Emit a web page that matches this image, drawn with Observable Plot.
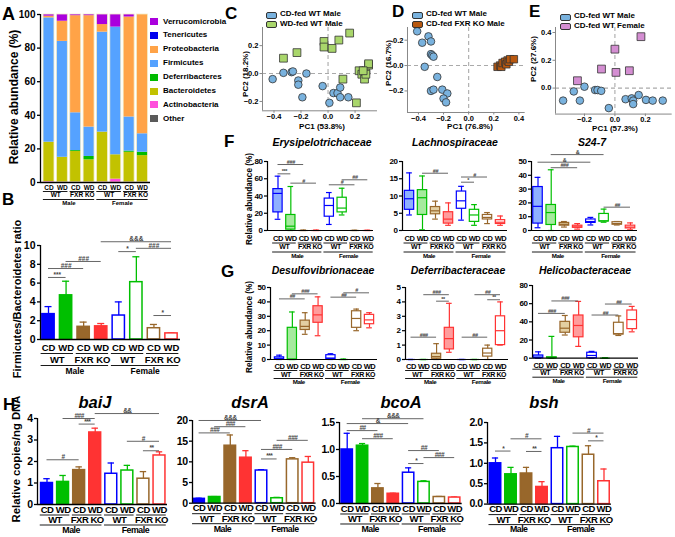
<!DOCTYPE html>
<html><head><meta charset="utf-8">
<script src="https://cdn.jsdelivr.net/npm/d3@7"></script>
<script src="https://cdn.jsdelivr.net/npm/@observablehq/plot@0.6"></script>
<style>
body{margin:0;background:#fff;}
#fig{position:relative;width:675px;height:537px;overflow:hidden;font-family:"Liberation Sans",Arial,sans-serif;color:#000;}
#fig div{position:absolute;white-space:nowrap;line-height:1;font-weight:bold;}
</style></head><body><div id="fig"></div><script>
// ---------------- shared group labels ----------------
const groupDiet = ["CD","WD","CD","WD","CD","WD","CD","WD"];
const genotypeLabels = ["WT","FXR KO","WT","FXR KO"];
const sexLabels = ["Male","Female"];
const groupColors = ["#0000ff","#00bf00","#98672b","#ff3333"];
const boxFills = ["#8fb0ff","#a6ea9e","#e3cfa2","#ff9c9c"];

// ---------------- Panel A ----------------
const phyla = ["Other","Actinobacteria","Bacteroidetes","Deferribacteres","Firmicutes","Proteobacteria","Tenericutes","Verrucomicrobia"];
const phylaColors = ["#5a5a5a","#ff4fdc","#c2c200","#00bb00","#55a2ff","#ffa347","#0000ee","#aa00dd"];
const abOther = [0,0,0,0,0,0,0,0];
const abActinobacteria = [0.5,0.2,0.2,0.2,0.3,2.0,0.2,0.2];
const abBacteroidetes = [23.5,14.8,18.3,13.3,29.7,14.5,17.8,15.8];
const abDeferribacteres = [0,0,0.5,2.0,0,0,0.7,2.0];
const abFirmicutes = [74.0,69.0,22.5,17.5,59.5,76.0,20.3,11.0];
const abProteobacteria = [1.0,12.0,57.8,66.3,4.5,0,59.5,71.0];
const abTenericutes = [0,0,0,0,0,0,0,0];
const abVerrucomicrobia = [1.0,4.0,0.7,0.7,6.0,7.5,1.5,0];

// ---------------- Panel B ----------------
const fbRatio = [2.7,4.7,1.35,1.4,2.55,6.1,1.2,0.65];
const fbRatioErr = [0.8,1.5,0.5,0.3,1.45,2.7,0.4,0.05];
const sigB = [[0,1,6.6,"***"],[0,2,7.55,"###"],[1,3,8.3,"###"],[3,7,10.4,"&&&"],[4,5,9.35,"*"],[5,7,9.7,"###"],[6,7,2.55,"*"]];

// ---------------- PCA panels ----------------
const pcaC_CD = [[-0.41,-0.04],[-0.33,0.005],[-0.27,0.01],[-0.26,0.015],[-0.22,-0.05],[-0.22,-0.08],[-0.16,0.0],[-0.19,-0.17],[-0.04,-0.09],[0.04,-0.14],[0.07,-0.14],[0.01,-0.21],[0.09,-0.10],[0.09,-0.17],[0.15,-0.17]];
const pcaC_WD = [[-0.33,0.11],[-0.23,0.15],[-0.03,0.23],[-0.03,0.19],[0.03,0.18],[0.08,0.24],[0.16,0.29],[0.11,-0.04],[0.21,-0.21],[0.23,0.02],[0.25,-0.005],[0.28,0.02],[0.30,0.06],[0.30,0.07],[0.27,-0.04],[0.28,-0.005],[0.26,0.02]];
const pcaD_WT = [[-0.41,0.27],[-0.37,0.18],[-0.32,0.23],[-0.30,0.19],[-0.30,0.09],[-0.29,0.08],[-0.28,0.07],[-0.35,-0.01],[-0.25,-0.09],[-0.30,-0.20],[-0.28,-0.19],[-0.21,-0.19],[-0.17,-0.22],[-0.20,-0.26],[-0.18,-0.29]];
const pcaD_KO = [[0.23,-0.01],[0.25,0.0],[0.26,-0.01],[0.27,0.02],[0.29,0.03],[0.30,0.01],[0.31,0.04],[0.32,0.03],[0.33,0.05],[0.36,0.05]];
const pcaE_M = [[-0.34,-0.09],[-0.27,-0.024],[-0.23,-0.09],[-0.20,0.01],[-0.13,-0.014],[-0.114,-0.014],[-0.09,-0.02],[-0.04,-0.144],[0.07,-0.08],[0.11,-0.074],[0.12,-0.09],[0.12,-0.115],[0.156,-0.05],[0.204,-0.085],[0.248,-0.09],[0.314,-0.09]];
const pcaE_F = [[-0.246,0.053],[-0.088,0.137],[0.0,0.28],[0.007,0.113],[0.095,0.125],[0.171,0.37]];

// ---------------- Panels F / G (five-number summaries: min, q1, median, q3, max) ----------------
const erysipelotrichaceae = [[13,21,43,48,63],[0,1,5,18,51],[0,0,0,0,0.5],[0,0,0,0,0.5],[7,16,29,37,44],[18,21,26,38,49],[0,0,0,0,0.3],[0,0,0,0,0.3]];
const lachnospiraceae = [[4.5,6,9.2,11.5,16.7],[0.2,4.5,9.5,11.7,15.8],[3.3,4.7,5.7,6.8,8.5],[1.5,2,3.3,5.3,8],[3,6.3,8.6,11.3,12.8],[1.5,2.5,4.5,6,7.5],[2,3.2,3.8,4.5,5.2],[1.5,1.9,2.4,3,4.2]];
const s24_7 = [[2,5,17.5,31.5,38.5],[0,4,13,18.5,44],[2.5,3.5,4.5,5.5,6.5],[1,2,2.5,3.5,5],[4,5.5,6.5,8,9.5],[6,6.5,7,12,15.5],[4,4.2,5,6,6.5],[0.5,1.5,2.5,3.5,5.5]];
const desulfovibrionaceae = [[0,0,0.5,1.5,3],[0,0,0,22,33],[17.5,20.5,23,27,32.5],[16.5,25.5,31,37,43.5],[0,0.3,1,3,4],[0,0,0,0,0.3],[20,22,28.5,33.5,35],[22,24.5,27.5,31,32.5]];
const deferribacteraceae = [[0,0,0,0,0],[0,0,0,0,0],[0,0.05,0.2,0.4,1.1],[0.5,0.7,1.45,2.2,3.9],[0,0,0,0,0],[0,0,0,0,0],[0,0.2,0.45,0.75,1.0],[1.0,1.0,2.0,3.0,4.0]];
const helicobacteraceae = [[0,0,1,3,7],[0,0,0.5,1,24],[25.5,28,33,40,47],[13,23,36,47,62.5],[0,0,3,6,7.5],[0,0,0,0,0.5],[25,26,27,39,46.5],[29,32,42.5,52.5,57]];
const sigF1 = [[0,2,76.5,"###"],[0,1,65.7,"***"],[1,3,54.9,"#"],[4,6,53,"#"],[5,7,58.8,"##"]];
const sigF2 = [[1,3,16.6,"##"],[4,6,15.5,"#"],[4,5,14.0,"*"]];
const sigF3 = [[1,5,55,"&"],[0,4,49.5,"&"],[1,3,45.5,"###"],[5,7,16.9,"##"]];
const sigG1 = [[0,2,42.1,"##"],[1,3,45.6,"###"],[4,6,43.3,"##"],[5,7,46.3,"#"]];
const sigG2 = [[1,3,4.5,"###"],[2,3,4.05,"**"],[0,2,1.55,"###"],[5,7,4.5,"##"],[6,7,4.15,"**"],[4,6,1.55,"##"]];
const sigG3 = [[0,2,49.3,"###"],[1,3,63,"###"],[4,6,47.5,"##"],[5,7,59.6,"##"]];

// ---------------- Panel H ----------------
const baiJ = [1.0,1.05,1.6,3.35,1.43,1.58,1.2,2.28];
const baiJErr = [0.2,0.3,0.15,0.2,0.5,0.24,0.33,0.17];
const dsrA = [1.05,1.5,13.9,11.0,7.9,1.2,10.6,9.8];
const dsrAErr = [0.15,0.1,2.6,1.7,0.2,0.2,0.4,1.5];
const bcoA = [1.0,1.07,0.28,0.18,0.57,0.40,0.12,0.11];
const bcoAErr = [0.3,0.04,0.09,0.01,0.09,0.02,0.01,0.01];
const bsh = [1.0,0.73,0.75,0.42,1.37,1.40,1.21,0.56];
const bshErr = [0.13,0.17,0.15,0.13,0.29,0.02,0.22,0.30];
const sigBaiJ = [[0,2,2.08,"#"],[1,3,4.0,"###"],[2,3,3.74,"***"],[3,7,4.23,"&&"],[5,7,2.94,"#"],[6,7,2.5,"**"]];
const sigDsrA = [[0,4,20,"&&&"],[1,3,18.5,"###"],[0,2,17.0,"###"],[4,5,10.7,"***"],[4,6,13.0,"###"],[5,7,15.2,"###"]];
const sigBcoA = [[1,5,1.57,"&&&"],[0,4,1.48,"&"],[0,2,1.35,"##"],[1,3,1.2,"###"],[4,6,0.98,"##"],[5,7,0.85,"###"],[4,5,0.74,"*"]];
const sigBsh = [[0,1,1.3,"*"],[1,3,1.6,"#"],[2,3,1.29,"**"],[5,7,1.74,"#"],[6,7,1.55,"*"]];

// =====================================================================
const fig = document.getElementById("fig");
const FONT = '"Liberation Sans", Arial, sans-serif';

function addText(txt, o) {
  const d = document.createElement("div");
  d.textContent = txt;
  d.style.fontSize = o.size + "px";
  if (o.italic) d.style.fontStyle = "italic";
  if (o.color) d.style.color = o.color;
  d.style.left = o.left + "px";
  d.style.top = o.top + "px";
  if (o.center) d.style.transform = "translateX(-50%)";
  if (o.rotate) d.style.transform = "translate(-50%,-50%) rotate(-90deg)";
  fig.appendChild(d);
  return d;
}

function chart({x0, x1, yTop, yBot, xdom, ydom, marks, fontSize = 9, ml = 40, mr = 10, mt = 40, mb = 40, ls = "0px"}) {
  const width = ml + (x1 - x0) + mr, height = mt + (yBot - yTop) + mb;
  const svg = Plot.plot({
    width, height, marginLeft: ml, marginRight: mr, marginTop: mt, marginBottom: mb,
    x: {domain: xdom, axis: null, label: null},
    y: {domain: ydom, label: null},
    color: {type: "identity"},
    style: {fontFamily: FONT, fontSize: fontSize + "px", fontWeight: "bold", background: "transparent", overflow: "visible", letterSpacing: ls},
    marks
  });
  svg.style.position = "absolute";
  svg.style.left = (x0 - ml) + "px";
  svg.style.top = (yTop - mt) + "px";
  svg.style.maxWidth = "none";
  fig.appendChild(svg);
}

function xdomFrom(x0, x1, c1, c8) {
  const step = (c8 - c1) / 7;
  return [(x0 - c1) / step, (x1 - c1) / step];
}

function yAxisMarks(xdom, ticks, fs, fmt, sw = 1.3) {
  return [
    Plot.ruleX([xdom[0]], {strokeWidth: sw}),
    Plot.ruleY([0], {strokeWidth: sw}),
    Plot.axisY(ticks, {label: null, tickSize: 3, tickPadding: 2, fontSize: fs, tickFormat: fmt, strokeWidth: sw})
  ];
}

function groupLabelMarks(dy, fs) {
  return [
    Plot.text(groupDiet, {x: (d, i) => i, y: () => 0, text: d => d, dy: dy[0], fontSize: fs[0]}),
    Plot.ruleY(genotypeLabels, {x1: (d, i) => 2 * i - 0.42, x2: (d, i) => 2 * i + 1.42, y: () => 0, dy: dy[1], strokeWidth: 0.9}),
    Plot.text(genotypeLabels, {x: (d, i) => 2 * i + 0.5, y: () => 0, text: d => d, dy: dy[2], fontSize: fs[1]}),
    Plot.ruleY(sexLabels, {x1: (d, i) => 4 * i - 0.42, x2: (d, i) => 4 * i + 3.42, y: () => 0, dy: dy[3], strokeWidth: 0.9}),
    Plot.text(sexLabels, {x: (d, i) => 4 * i + 1.5, y: () => 0, text: d => d, dy: dy[4], fontSize: fs[2]})
  ];
}

function sigMarks(sig, fs = 6) {
  return [
    Plot.ruleY(sig, {x1: d => d[0], x2: d => d[1], y: d => d[2], stroke: "#555", strokeWidth: 0.9}),
    Plot.text(sig, {x: d => (d[0] + d[1]) / 2, y: d => d[2], text: d => d[3], dy: -0.5, lineAnchor: "bottom", fontSize: fs, fill: "#444"})
  ];
}

function barMarks(vals, errs, bw, sw = 1.5) {
  const t = vals.map((v, i) => ({i, v, e: errs[i], c: groupColors[i % 4], f: i < 4 ? groupColors[i % 4] : "white"}));
  return [
    Plot.ruleX(t, {x: "i", y1: "v", y2: d => d.v + d.e, stroke: "c", strokeWidth: 1.3}),
    Plot.ruleY(t, {x1: d => d.i - 0.2, x2: d => d.i + 0.2, y: d => d.v + d.e, stroke: "c", strokeWidth: 1.3}),
    Plot.rectY(t, {x1: d => d.i - bw / 2, x2: d => d.i + bw / 2, y1: () => 0, y2: "v", fill: "f", stroke: "c", strokeWidth: sw})
  ];
}

function boxMarks(stats, bw = 0.72) {
  const t = stats.map((d, i) => ({i, min: d[0], q1: d[1], med: d[2], q3: d[3], max: d[4], c: groupColors[i % 4], f: i < 4 ? boxFills[i] : "white"}));
  return [
    Plot.ruleX(t, {x: "i", y1: "min", y2: "max", stroke: "c", strokeWidth: 1.2}),
    Plot.ruleY(t, {x1: d => d.i - 0.22, x2: d => d.i + 0.22, y: "max", stroke: "c", strokeWidth: 1.2}),
    Plot.ruleY(t, {x1: d => d.i - 0.22, x2: d => d.i + 0.22, y: "min", stroke: "c", strokeWidth: 1.2}),
    Plot.rectY(t, {x1: d => d.i - bw / 2, x2: d => d.i + bw / 2, y1: "q1", y2: "q3", fill: "f", stroke: "c", strokeWidth: 1.2}),
    Plot.ruleY(t, {x1: d => d.i - bw / 2, x2: d => d.i + bw / 2, y: "med", stroke: "c", strokeWidth: 1.2})
  ];
}

// ---------------- Panel A draw ----------------
{
  const series = [abOther, abActinobacteria, abBacteroidetes, abDeferribacteres, abFirmicutes, abProteobacteria, abTenericutes, abVerrucomicrobia];
  const rows = [];
  for (let b = 0; b < 8; b++) {
    let cum = 0;
    series.forEach((s, k) => { rows.push({i: b, y1: cum, y2: cum + s[b], c: phylaColors[k]}); cum += s[b]; });
  }
  const x0 = 40, x1 = 150;
  const xdom = xdomFrom(x0, x1, 48.5, 142);
  chart({x0, x1, yTop: 14, yBot: 182, xdom, ydom: [0, 100], fontSize: 10,
    marks: [
      Plot.rectY(rows, {x1: d => d.i - 0.41, x2: d => d.i + 0.41, y1: "y1", y2: "y2", fill: "c"}),
      Plot.rectY(d3.range(8), {x1: d => d - 0.41, x2: d => d + 0.41, y1: () => 0, y2: () => 100, fill: "none", stroke: "#f3edc8", strokeWidth: 0.8}),
      ...yAxisMarks(xdom, [0, 20, 40, 60, 80, 100], 10),
      ...groupLabelMarks([5.5, 9, 12.5, 17, 21], [6.5, 6.5, 6])
    ]});
  addText("Relative abundance (%)", {left: 14, top: 97, size: 12, rotate: true});
  phyla.slice().reverse().forEach((p, k) => {
    const col = phylaColors[phyla.length - 1 - k];
    const sw = document.createElement("div");
    sw.style.left = "150px"; sw.style.top = (18 + k * 13.9) + "px";
    sw.style.width = "8px"; sw.style.height = "7px"; sw.style.background = col;
    fig.appendChild(sw);
    addText(p, {left: 163, top: 17.5 + k * 13.9, size: 8});
  });
  addText("A", {left: 2, top: 4.5, size: 18});
}

// ---------------- Panel B draw ----------------
{
  const x0 = 40, x1 = 180;
  const xdom = xdomFrom(x0, x1, 48, 171);
  chart({x0, x1, yTop: 245, yBot: 339, xdom, ydom: [0, 10], fontSize: 10.5,
    marks: [
      ...barMarks(fbRatio, fbRatioErr, 0.7),
      ...yAxisMarks(xdom, [0, 2, 4, 6, 8, 10], 10.5),
      ...sigMarks(sigB, 6.5),
      ...groupLabelMarks([8, 14, 20, 26, 31.5], [9.5, 9.5, 8.5])
    ]});
  addText("Firmicutes/Bacteroidetes ratio", {left: 17, top: 299, size: 11, rotate: true});
  addText("B", {left: 2, top: 191, size: 17});
}

// ---------------- PCA draw ----------------
function pca({x0, x1, yTop, yBot, xdom, ydom, xticks, yticks, series}) {
  const fmt = d3.format(".1f");
  chart({x0, x1, yTop, yBot, xdom, ydom, fontSize: 7.5, ml: 30, mr: 5, mt: 20, mb: 20,
    marks: [
      Plot.ruleX([0], {stroke: "#aaa", strokeWidth: 1.1, strokeDasharray: "4,3"}),
      Plot.ruleY([0], {stroke: "#aaa", strokeWidth: 1.1, strokeDasharray: "4,3"}),
      Plot.ruleX([xdom[0]], {stroke: "#888", strokeWidth: 1}),
      Plot.ruleY([ydom[0]], {stroke: "#888", strokeWidth: 1}),
      Plot.axisX(xticks, {label: null, anchor: "bottom", tickSize: 2.5, tickPadding: 0.5, fontSize: 7.5, tickFormat: fmt, stroke: "#888"}),
      Plot.axisY(yticks, {label: null, anchor: "left", tickSize: 2.5, tickPadding: 1.5, fontSize: 7.5, tickFormat: fmt, stroke: "#888"}),
      ...series.map(s => Plot.dot(s.pts, {x: d => d[0], y: d => d[1], symbol: s.symbol, r: s.r, fill: s.fill, stroke: "#333", strokeWidth: 0.8}))
    ]});
}
function pcaLegend(items, left, top) {
  items.forEach((it, k) => {
    const sw = document.createElement("div");
    sw.style.left = left + "px"; sw.style.top = (top + k * 9.5 + 1.5) + "px";
    sw.style.width = "9px"; sw.style.height = "5px"; sw.style.background = it.fill;
    sw.style.border = "1px solid #333"; sw.style.borderRadius = "2px";
    fig.appendChild(sw);
    addText(it.label, {left: left + 14, top: top + k * 9.5, size: 8});
  });
}
const cBlue = "#79b2de", cGreen = "#a9d66b", cOrange = "#b8580f", cPink = "#d48ed2";
pca({x0: 262, x1: 377, yTop: 26.7, yBot: 110, xdom: [-0.485, 0.366], ydom: [-0.267, 0.33],
  xticks: [-0.4, -0.2, 0, 0.2], yticks: [-0.2, 0, 0.2],
  series: [{pts: pcaC_CD, symbol: "circle", r: 3.8, fill: cBlue}, {pts: pcaC_WD, symbol: "square", r: 4.4, fill: cGreen}]});
pcaLegend([{label: "CD-fed WT Male", fill: cBlue}, {label: "WD-fed WT Male", fill: cGreen}], 266, 10);
addText("PC1 (53.8%)", {left: 322, top: 122.5, size: 8, center: true});
addText("PC2 (18.2%)", {left: 246, top: 74, size: 8, rotate: true});
addText("C", {left: 225, top: 5, size: 17});

pca({x0: 407.3, x1: 525, yTop: 26.7, yBot: 111.7, xdom: [-0.487, 0.45], ydom: [-0.37, 0.30],
  xticks: [-0.4, -0.2, 0, 0.2, 0.4], yticks: [-0.2, 0, 0.2],
  series: [{pts: pcaD_WT, symbol: "circle", r: 3.8, fill: cBlue}, {pts: pcaD_KO, symbol: "square", r: 4.2, fill: cOrange}]});
pcaLegend([{label: "CD-fed WT Male", fill: cBlue}, {label: "CD-fed FXR KO Male", fill: cOrange}], 412, 10);
addText("PC1 (76.8%)", {left: 470, top: 123, size: 8, center: true});
addText("PC2 (16.7%)", {left: 389, top: 63, size: 8, rotate: true});
addText("D", {left: 392, top: 3, size: 17});

pca({x0: 555, x1: 671.7, yTop: 26.7, yBot: 113.3, xdom: [-0.39, 0.376], ydom: [-0.187, 0.436],
  xticks: [-0.2, 0, 0.2], yticks: [0, 0.2, 0.4],
  series: [{pts: pcaE_M, symbol: "circle", r: 3.8, fill: cBlue}, {pts: pcaE_F, symbol: "square", r: 4.4, fill: cPink}]});
pcaLegend([{label: "CD-fed WT Male", fill: cBlue}, {label: "CD-fed WT Female", fill: cPink}], 560, 12);
addText("PC1 (57.3%)", {left: 615, top: 124.5, size: 8, center: true});
addText("PC2 (27.6%)", {left: 534, top: 59, size: 8, rotate: true});
addText("E", {left: 529, top: 3, size: 17});

// ---------------- Panels F / G draw ----------------
function boxPanel({x0, x1, yTop, yBot, c1, c8, ymax, ticks, stats, sig, title, titleX, titleTop, labDy}) {
  const xdom = xdomFrom(x0, x1, c1, c8);
  chart({x0, x1, yTop, yBot, xdom, ydom: [0, ymax], fontSize: 8, ls: "-0.4px",
    marks: [
      ...boxMarks(stats),
      ...yAxisMarks(xdom, ticks, 8, undefined, 1.2),
      ...sigMarks(sig, 5.5),
      ...groupLabelMarks(labDy, [7.5, 7, 6.2])
    ]});
  addText(title, {left: titleX, top: titleTop, size: 10.5, italic: true, center: true});
}
const fDy = [8, 12.5, 16.7, 21.5, 25.5];
const gDy = [7.3, 11, 14.8, 19, 23];
boxPanel({x0: 267, x1: 373, yTop: 161, yBot: 230, c1: 277.5, c8: 367.3, ymax: 80, ticks: [0, 20, 40, 60, 80], stats: erysipelotrichaceae, sig: sigF1, title: "Erysipelotrichaceae", titleX: 322, titleTop: 137, labDy: fDy});
boxPanel({x0: 402, x1: 507, yTop: 161, yBot: 230, c1: 409, c8: 500, ymax: 20, ticks: [0, 5, 10, 15, 20], stats: lachnospiraceae, sig: sigF2, title: "Lachnospiraceae", titleX: 455, titleTop: 137, labDy: fDy});
boxPanel({x0: 531, x1: 637, yTop: 161, yBot: 230, c1: 537.5, c8: 630, ymax: 50, ticks: [0, 10, 20, 30, 40, 50], stats: s24_7, sig: sigF3, title: "S24-7", titleX: 592, titleTop: 137, labDy: fDy});
boxPanel({x0: 270, x1: 377, yTop: 287, yBot: 359, c1: 279, c8: 369, ymax: 50, ticks: [0, 10, 20, 30, 40, 50], stats: desulfovibrionaceae, sig: sigG1, title: "Desulfovibrionaceae", titleX: 323, titleTop: 265, labDy: gDy});
boxPanel({x0: 405, x1: 508, yTop: 287, yBot: 359, c1: 410.5, c8: 500, ymax: 5, ticks: [0, 1, 2, 3, 4, 5], stats: deferribacteraceae, sig: sigG2, title: "Deferribacteraceae", titleX: 458, titleTop: 265, labDy: gDy});
boxPanel({x0: 532, x1: 638, yTop: 285, yBot: 357.7, c1: 538, c8: 631.7, ymax: 80, ticks: [0, 20, 40, 60, 80], stats: helicobacteraceae, sig: sigG3, title: "Helicobacteraceae", titleX: 585, titleTop: 265, labDy: gDy});
addText("Relative abundance (%)", {left: 250, top: 199, size: 8.2, rotate: true});
addText("Relative abundance (%)", {left: 250, top: 327, size: 8.2, rotate: true});
addText("F", {left: 224, top: 133, size: 17});
addText("G", {left: 221, top: 263, size: 17});

// ---------------- Panel H draw ----------------
function hPanel({x0, x1, yTop, yBot, c1, c8, ymax, ticks, fmt, vals, errs, sig, title, titleX}) {
  const xdom = xdomFrom(x0, x1, c1, c8);
  chart({x0, x1, yTop, yBot, xdom, ydom: [0, ymax], fontSize: 10.5, ls: "-0.5px",
    marks: [
      ...barMarks(vals, errs, 0.74),
      ...yAxisMarks(xdom, ticks, 10.5, fmt),
      ...sigMarks(sig, 6.5),
      ...groupLabelMarks([5, 10.5, 15.5, 20.5, 25.5], [9.5, 9.5, 8.8])
    ]});
  addText(title, {left: titleX, top: 394, size: 16.5, italic: true, center: true});
}
const f1 = d3.format(".1f");
hPanel({x0: 37, x1: 167, yTop: 418, yBot: 504, c1: 46.5, c8: 159, ymax: 4, ticks: [0, 1, 2, 3, 4], vals: baiJ, errs: baiJErr, sig: sigBaiJ, title: "baiJ", titleX: 95});
hPanel({x0: 191.7, x1: 315.3, yTop: 420, yBot: 502.7, c1: 198.3, c8: 307.5, ymax: 20, ticks: [0, 5, 10, 15, 20], vals: dsrA, errs: dsrAErr, sig: sigDsrA, title: "dsrA", titleX: 250});
hPanel({x0: 339.3, x1: 462, yTop: 422, yBot: 503, c1: 347, c8: 454.5, ymax: 1.5, ticks: [0, 0.5, 1, 1.5], fmt: f1, vals: bcoA, errs: bcoAErr, sig: sigBcoA, title: "bcoA", titleX: 401});
hPanel({x0: 487, x1: 611, yTop: 421.7, yBot: 503.3, c1: 495, c8: 603.5, ymax: 2, ticks: [0, 0.5, 1, 1.5, 2], fmt: f1, vals: bsh, errs: bshErr, sig: sigBsh, title: "bsh", titleX: 544});
addText("Relative copies/ng DNA", {left: 17, top: 459, size: 11.3, rotate: true});
addText("H", {left: 3, top: 396, size: 17});
</script></body></html>
